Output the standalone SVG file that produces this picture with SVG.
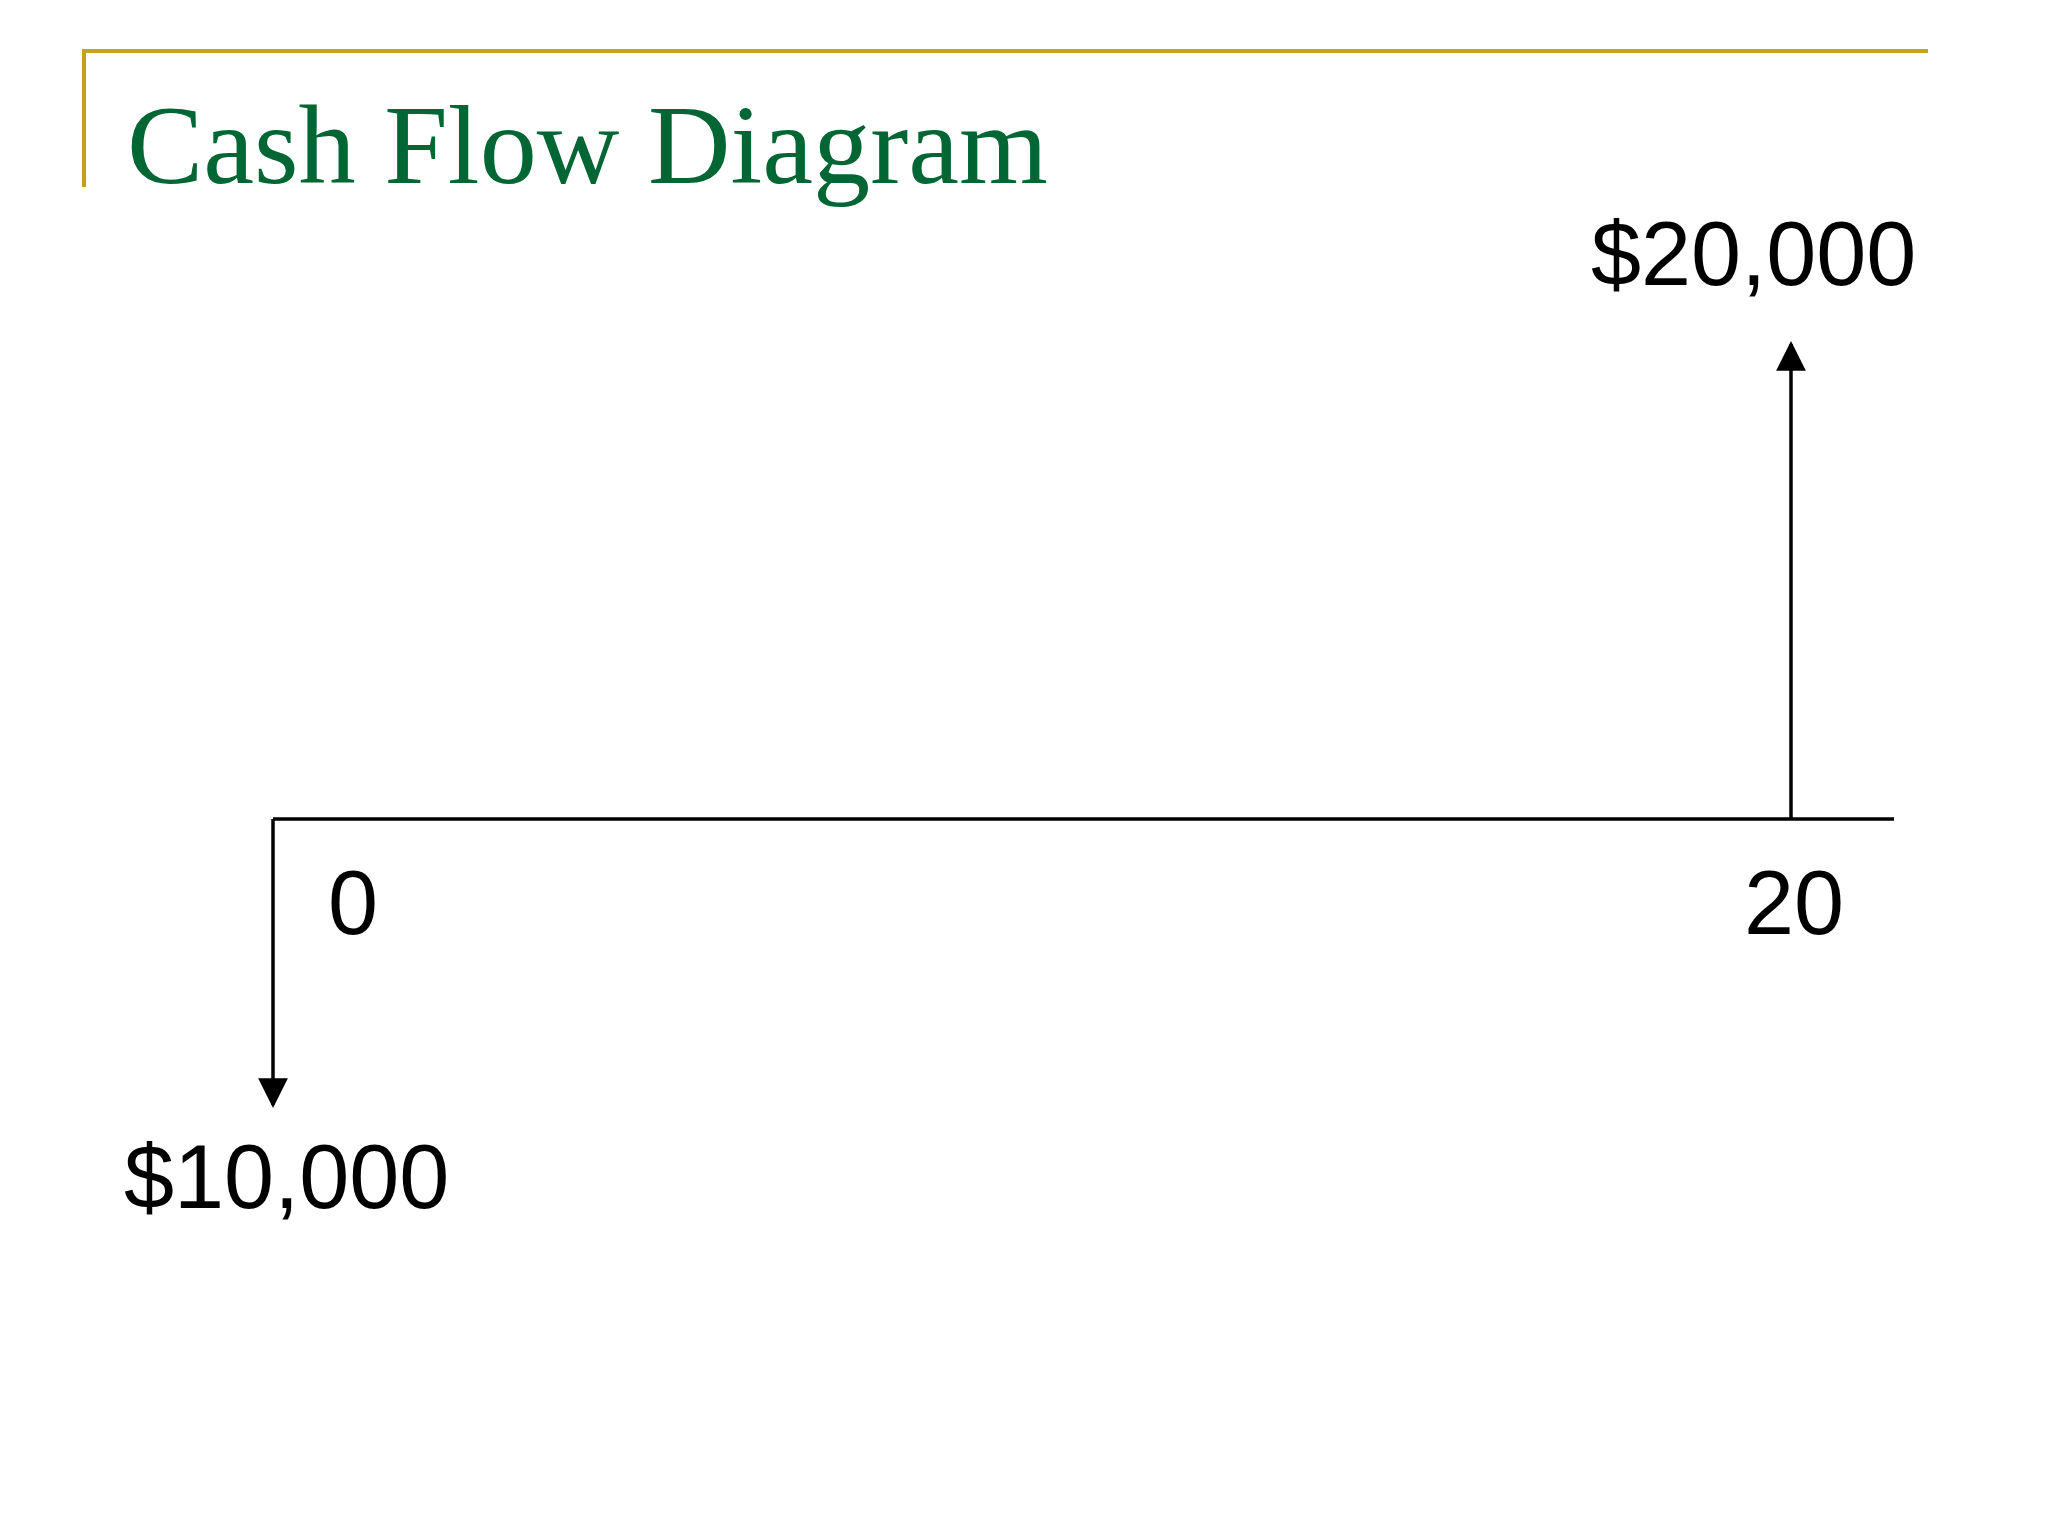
<svg xmlns="http://www.w3.org/2000/svg" width="2048" height="1536" viewBox="0 0 2048 1536">
  <style>
    .lbl { font-family: "Liberation Sans", Arial, sans-serif; font-size: 90px; fill: #000; }
    .title { font-family: "Liberation Serif", "Times New Roman", serif; font-size: 112px; fill: #006633; }
    .axis { stroke: #000; stroke-width: 3.5; fill: none; }
    .gold { stroke: #C8A01E; stroke-width: 4; fill: none; }
  </style>
  <defs>
    <marker id="arrow" viewBox="0 0 10 10" refX="9" refY="5" markerWidth="8.5" markerHeight="8.5" markerUnits="strokeWidth" orient="auto">
      <path d="M0,0 L10,5 L0,10 Z" fill="#000"/>
    </marker>
  </defs>
  <rect width="2048" height="1536" fill="#fff"/>
  <g id="frame">
    <path class="gold" d="M84,187 L84,51 L1928,51"/>
  </g>
  <g id="title">
    <text class="title" x="127" y="183" textLength="921" lengthAdjust="spacingAndGlyphs">Cash Flow Diagram</text>
  </g>
  <g id="connectors">
    <line class="axis" x1="273" y1="819" x2="1894" y2="819"/>
    <line class="axis" x1="1791" y1="819" x2="1791" y2="344" marker-end="url(#arrow)"/>
    <line class="axis" x1="273" y1="819" x2="273" y2="1105" marker-end="url(#arrow)"/>
  </g>
  <g id="label-20000"><text class="lbl" x="1591" y="285">$20,000</text></g>
  <g id="label-10000"><text class="lbl" x="124" y="1208">$10,000</text></g>
  <g id="label-0"><text class="lbl" x="328" y="934">0</text></g>
  <g id="label-20"><text class="lbl" x="1744" y="934">20</text></g>
</svg>
